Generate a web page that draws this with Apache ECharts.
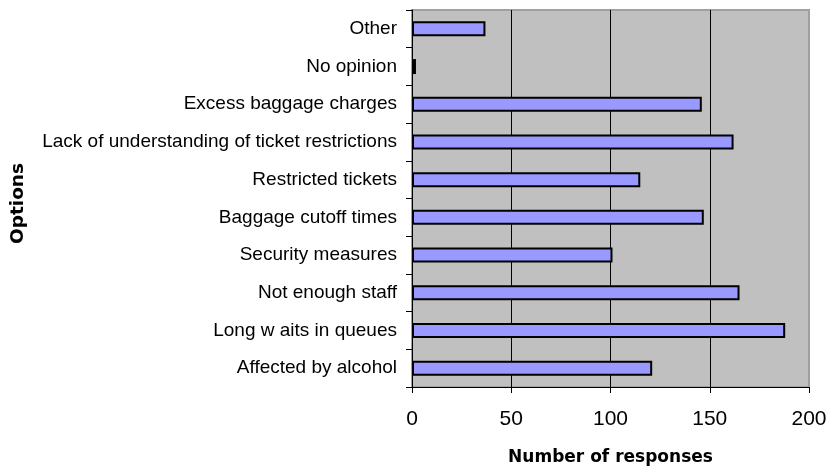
<!DOCTYPE html>
<html>
<head>
<meta charset="utf-8">
<script src="https://cdn.jsdelivr.net/npm/echarts@6/dist/echarts.min.js"></script>
<style>html,body{margin:0;padding:0;background:#fff;}#c{width:830px;height:471px;}</style>
</head>
<body>
<div id="c"></div>
<script>
var categories = ["Other", "No opinion", "Excess baggage charges", "Lack of understanding of ticket restrictions", "Restricted tickets", "Baggage cutoff times", "Security measures", "Not enough staff", "Long w aits in queues", "Affected by alcohol"];
var responses = [37, 2, 146, 162, 115, 147, 101, 165, 188, 121];
var xTicks = [0, 50, 100, 150, 200];

var chart = echarts.init(document.getElementById('c'), null, {renderer: 'canvas'});
chart.setOption({
  animation: false,
  backgroundColor: '#ffffff',
  grid: {left: 412, right: 21, top: 10, bottom: 83, show: true, backgroundColor: '#c0c0c0', borderColor: '#a0a0a0', borderWidth: 2},
  xAxis: {
    type: 'value', min: xTicks[0], max: xTicks[xTicks.length - 1], interval: 50,
    name: 'Number of responses', nameLocation: 'middle', nameGap: 62,
    nameTextStyle: {fontFamily: 'DejaVu Sans', fontWeight: 'bold', fontSize: 17, color: '#000'},
    axisLine: {show: true, lineStyle: {color: '#000', width: 1}},
    axisTick: {show: true, length: 6, lineStyle: {color: '#000'}},
    axisLabel: {fontFamily: 'Liberation Sans', fontSize: 21, color: '#000', margin: 22},
    splitLine: {show: true, lineStyle: {color: ['#000', '#000', '#000', '#000', '#a0a0a0'], width: 1}}
  },
  yAxis: {
    type: 'category', data: categories, inverse: true,
    name: 'Options', nameLocation: 'middle', nameGap: 384, nameRotate: 90,
    nameTextStyle: {fontFamily: 'DejaVu Sans', fontWeight: 'bold', fontSize: 18.5, color: '#000', padding: [0, 10, 0, 0]},
    axisLine: {show: true, lineStyle: {color: '#000', width: 1}},
    axisTick: {show: true, length: 6, lineStyle: {color: '#000'}},
    axisLabel: {fontFamily: 'Liberation Sans', fontSize: 19, color: '#000', margin: 15},
    splitLine: {show: false}
  },
  series: [{
    type: 'bar', data: responses, barWidth: 15,
    itemStyle: {color: '#9999ff', borderColor: '#000', borderWidth: 2}
  }]
});
</script>
</body>
</html>
